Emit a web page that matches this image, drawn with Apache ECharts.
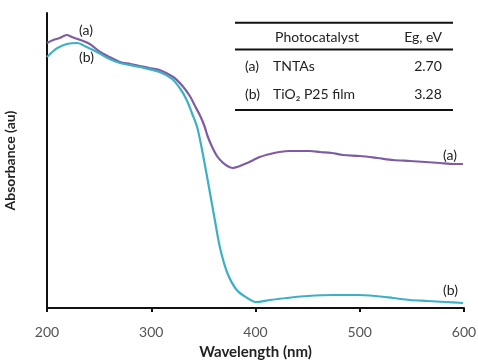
<!DOCTYPE html>
<html><head><meta charset="utf-8">
<script src="https://cdn.jsdelivr.net/npm/echarts@6/dist/echarts.min.js"></script>
<style>html,body{margin:0;padding:0;background:#fff}#c{width:478px;height:361px}</style>
</head><body><div id="c"></div>
<script>
// Curve (a) TNTAs: wavelength (nm), absorbance (au)
const waveA = [200,206,212,216,219,224,232,241,251,260,270,280,289,298,308,321,330,337,342,347,351,354,358,363,368,373,378,385,392,398,404,414,423,433,443,452,462,473,484,500,517,532,548,563,577,590,599];
const absA  = [2.65,2.68,2.70,2.72,2.73,2.71,2.68,2.64,2.56,2.51,2.46,2.44,2.42,2.40,2.38,2.31,2.22,2.12,2.02,1.92,1.82,1.72,1.62,1.52,1.46,1.42,1.40,1.42,1.45,1.48,1.51,1.54,1.56,1.57,1.57,1.57,1.56,1.55,1.53,1.52,1.50,1.48,1.47,1.46,1.45,1.44,1.44];
// Curve (b) TiO2 P25 film
const waveB = [200,205,210,219,229,238,248,258,270,289,308,320,328,334,339,344,348,352,356,361,366,373,382,392,400,414,430,450,475,497,515,532,548,565,582,599];
const absB  = [2.51,2.56,2.60,2.64,2.65,2.61,2.56,2.50,2.45,2.41,2.36,2.29,2.19,2.08,1.95,1.81,1.62,1.40,1.17,0.88,0.60,0.35,0.18,0.10,0.06,0.08,0.10,0.12,0.13,0.13,0.12,0.10,0.08,0.07,0.06,0.05];
// Table
const tableHeader = ['Photocatalyst', 'Eg, eV'];
const tableKeys = ['(a)', '(b)'];
const tableNames = ['TNTAs', 'TiO\u2082 P25 film'];
const tableEg = ['2.70', '3.28'];
const xTicks = [200, 300, 400, 500, 600];

const chart = echarts.init(document.getElementById('c'));
const F = 'Lato, "Open Sans", sans-serif';
const txt = (x, y, s, align) => ({type:'text', style:{x:x, y:y, text:s, font:'14px '+F, fill:'#222', textAlign:align||'left', textVerticalAlign:'middle'}});
const lines = [22.7, 49.5, 110].map(y => ({type:'line', shape:{x1:235, y1:y, x2:453, y2:y}, style:{stroke:'#111', lineWidth:2}}));
const g = [].concat(lines, [
  txt(317, 37, tableHeader[0], 'center'),
  txt(423, 37, tableHeader[1], 'center'),
  txt(245, 66, tableKeys[0]), txt(273, 66, tableNames[0]), txt(428, 66, tableEg[0], 'center'),
  txt(245, 94, tableKeys[1]), txt(273, 94, tableNames[1]), txt(428, 94, tableEg[1], 'center'),
  txt(79, 30, '(a)'), txt(79, 57, '(b)'),
  txt(443, 155, '(a)'), txt(443, 290, '(b)')
]);
chart.setOption({
  animation:false,
  grid:{left:47, right:14, top:13, bottom:53, containLabel:false, outerBoundsMode:'none'},
  xAxis:{type:'value', min:200, max:600, interval:100,
    name:'Wavelength (nm)', nameLocation:'middle', nameGap:37,
    nameTextStyle:{fontFamily:F, fontWeight:'bold', fontSize:15, color:'#222'},
    axisLine:{lineStyle:{color:'#111', width:2}},
    axisTick:{show:true, length:4, lineStyle:{color:'#111', width:2}},
    axisLabel:{fontFamily:F, fontSize:14, color:'#555', margin:17, formatter: v => xTicks.includes(v) ? String(v) : ''},
    splitLine:{show:false}},
  yAxis:{type:'value', min:0, max:2.95,
    name:'Absorbance (au)', nameLocation:'middle', nameGap:30,
    nameTextStyle:{fontFamily:F, fontWeight:'bold', fontSize:14, color:'#222'},
    axisLine:{show:true, lineStyle:{color:'#111', width:2}},
    axisTick:{show:false}, axisLabel:{show:false}, splitLine:{show:false}},
  series:[
    {type:'line', data:waveA.map((w,i)=>[w,absA[i]]), showSymbol:false, smooth:0.3, lineStyle:{color:'#7d5ca4', width:2.2}},
    {type:'line', data:waveB.map((w,i)=>[w,absB[i]]), showSymbol:false, smooth:0.3, lineStyle:{color:'#3db0c6', width:2.2}}
  ],
  graphic:g
});
</script></body></html>
